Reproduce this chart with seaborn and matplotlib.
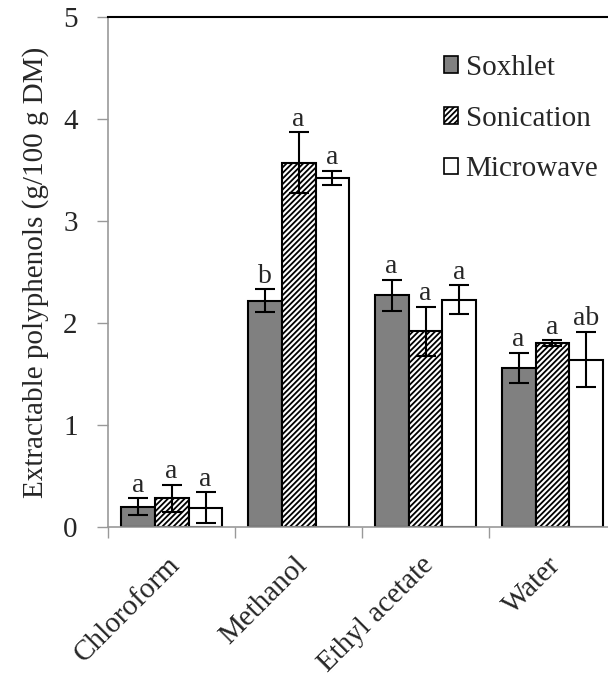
import numpy as np
import pandas as pd
import matplotlib
matplotlib.use("Agg")
import matplotlib.pyplot as plt
import matplotlib.transforms as mtrans
import seaborn as sns

solvents = ["Chloroform", "Methanol", "Ethyl acetate", "Water"]
methods = ["Soxhlet", "Sonication", "Microwave"]

soxhlet = [0.20, 2.22, 2.27, 1.56]
sonication = [0.28, 3.57, 1.92, 1.80]
microwave = [0.19, 3.42, 2.23, 1.64]

soxhlet_err = [0.08, 0.11, 0.155, 0.15]
sonication_err = [0.13, 0.30, 0.24, 0.03]
microwave_err = [0.15, 0.07, 0.14, 0.27]

soxhlet_lab = ["a", "b", "a", "a"]
sonication_lab = ["a", "a", "a", "a"]
microwave_lab = ["a", "a", "a", "ab"]

sns.set_style("white")
plt.rcParams['font.family'] = ['Liberation Serif', 'DejaVu Serif']
plt.rcParams['hatch.linewidth'] = 1.3

df = pd.DataFrame({
    "solvent": solvents * 3,
    "method": [m for m in methods for _ in solvents],
    "value": soxhlet + sonication + microwave,
    "err": soxhlet_err + sonication_err + microwave_err,
    "lab": soxhlet_lab + sonication_lab + microwave_lab,
})

fig = plt.figure(figsize=(6.08, 6.78), dpi=100)
ax = fig.add_axes([0.178, 0.2227, 0.835, 0.7523])

palette = {"Soxhlet": "#808080", "Sonication": "white", "Microwave": "white"}
sns.barplot(data=df, x="solvent", y="value", hue="method", order=solvents,
            hue_order=methods, palette=palette, errorbar=None, width=0.8,
            edgecolor="black", linewidth=1.5, saturation=1, ax=ax)

hatches = {"Soxhlet": "", "Sonication": "//////", "Microwave": ""}
for cont, m in zip(ax.containers, methods):
    sub = df[df["method"] == m].set_index("solvent").loc[solvents]
    xs = []
    for bar in cont:
        bar.set_hatch(hatches[m])
        xs.append(bar.get_x() + bar.get_width() / 2)
    ax.errorbar(xs, sub["value"], yerr=sub["err"], fmt="none", ecolor="black",
                elinewidth=1.5, capsize=7, capthick=1.5, zorder=5)
    for x, v, e, t in zip(xs, sub["value"], sub["err"], sub["lab"]):
        ax.annotate(t, (x, v + e), xytext=(0, 0.5), textcoords="offset points",
                    ha="center", va="bottom", fontsize=20)

ax.set_ylim(0, 5)
ax.set_xlim(-0.5, 3.5)
ax.set_yticks(range(0, 6))
ax.tick_params(axis="y", labelsize=21, length=8, width=1, color="#999999",
               left=True, direction="out", pad=14)
ax.set_xticks(range(len(solvents)))
ax.set_xticklabels(solvents, rotation=45, ha="right", rotation_mode="anchor",
                   fontsize=21)
ax.tick_params(axis="x", length=0, pad=18)
shift = mtrans.ScaledTranslation(-5 / 100, 0, fig.dpi_scale_trans)
for lab in ax.get_xticklabels():
    lab.set_transform(lab.get_transform() + shift)
ax.set_xticks([-0.5, 0.5, 1.5, 2.5, 3.5], minor=True)
ax.tick_params(axis="x", which="minor", length=8, width=1, color="#999999",
               bottom=True, direction="out")

ax.set_xlabel("")
ax.set_ylabel("Extractable polyphenols (g/100 g DM)", fontsize=21, labelpad=10)

for s in ["left", "bottom"]:
    ax.spines[s].set_color("#999999")
    ax.spines[s].set_linewidth(1.2)
ax.spines["top"].set_color("black")
ax.spines["top"].set_linewidth(1.5)
ax.spines["right"].set_visible(False)

handles, labels = ax.get_legend_handles_labels()
for h, m in zip(handles, methods):
    h.set_hatch(hatches[m])
    h.set_linewidth(1.2)
ax.legend(handles, labels, loc="upper right", bbox_to_anchor=(1.0, 0.96),
          frameon=False, fontsize=21, handlelength=0.5, handleheight=0.5,
          handletextpad=0.25, labelspacing=0.85, borderaxespad=0.2)

fig.savefig("out.png", dpi=100)
